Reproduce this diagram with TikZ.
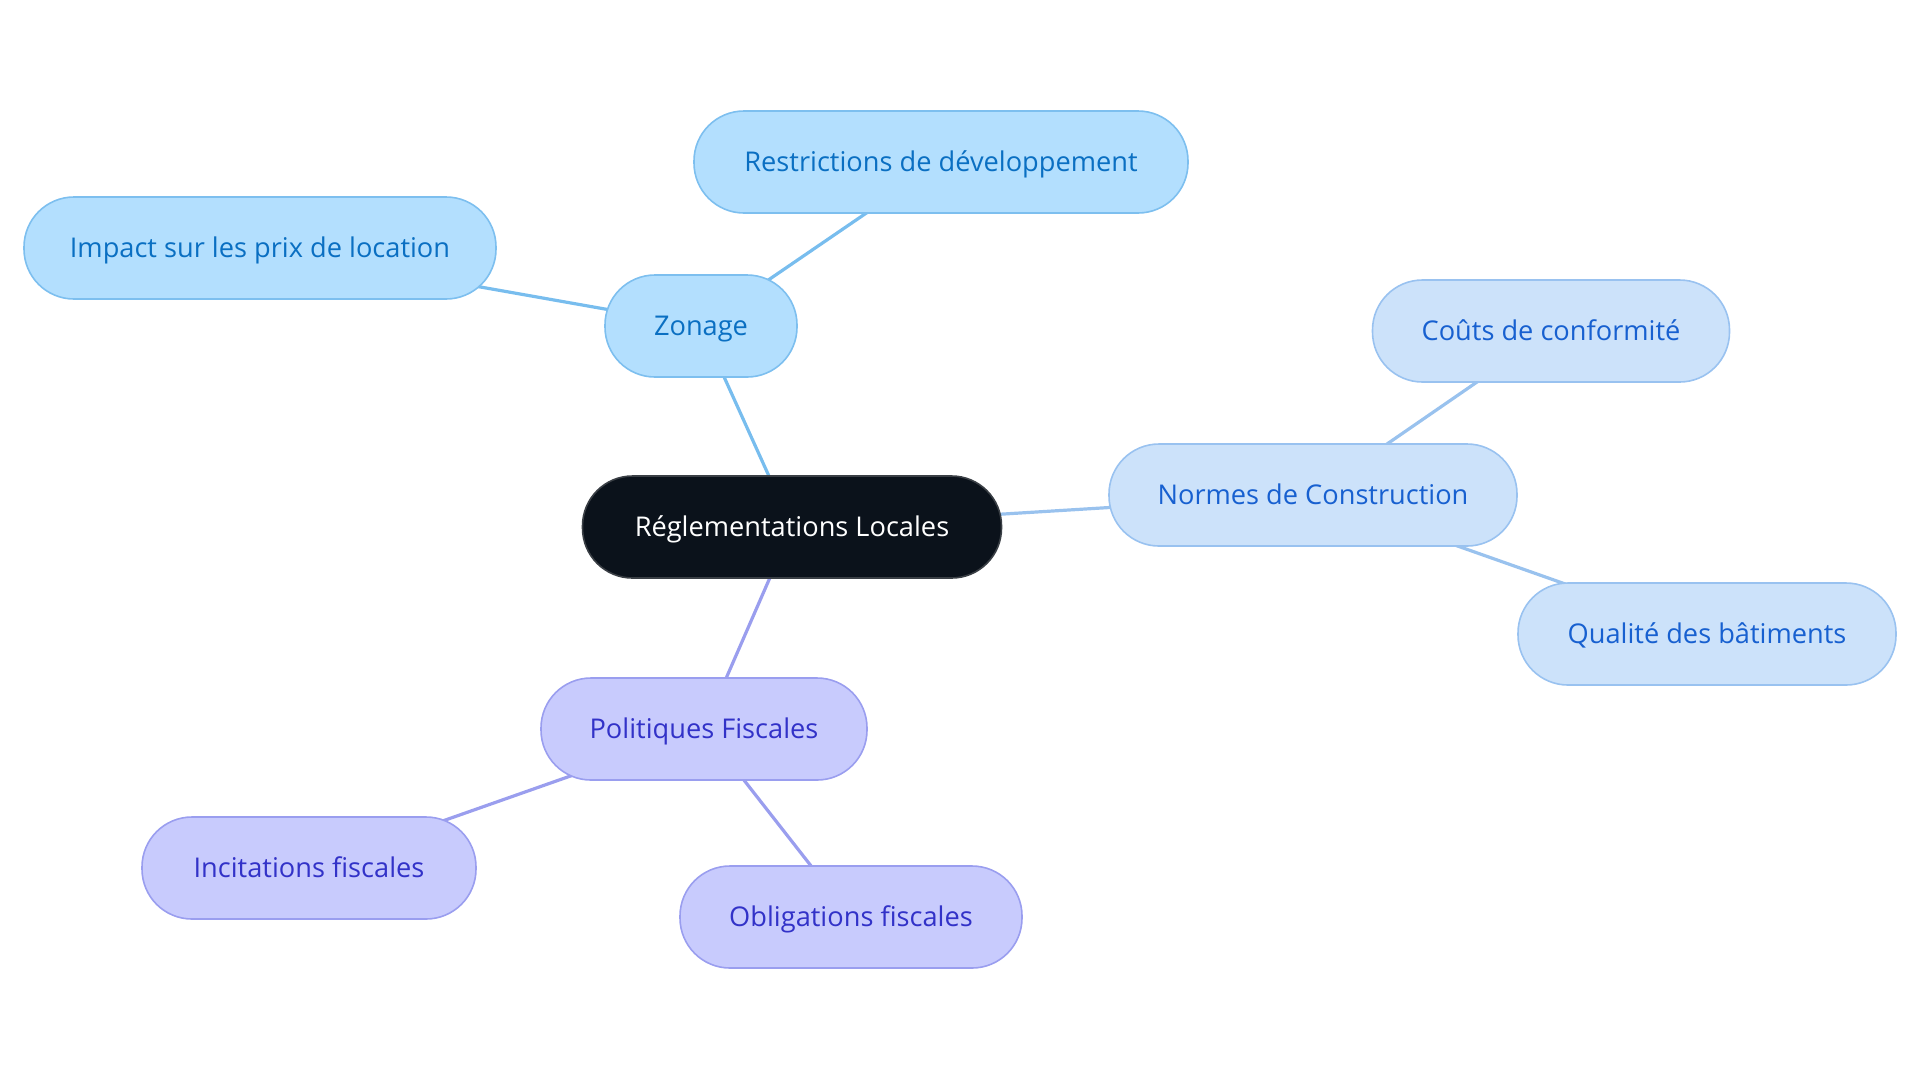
\documentclass[tikz,border=0pt]{standalone}
\usepackage{fontspec}
\setmainfont{Open Sans}
\pgfdeclarelayer{bg}
\pgfsetlayers{bg,main}
\begin{document}
\begin{tikzpicture}[x=0.5pt,y=-0.5pt,
  box/.style={draw, line width=0.8pt, rounded corners=25pt, minimum height=51pt, inner sep=0pt, text height=9.6pt, text depth=0pt, align=center, font=\fontsize{13.6}{16}\selectfont},
  rootbox/.style={box, fill=rootfill, draw=rootdraw, text=white},
  zbox/.style={box, fill=zfill, draw=zdraw, text=ztext},
  nbox/.style={box, fill=nfill, draw=ndraw, text=ntext},
  pbox/.style={box, fill=pfill, draw=pdraw, text=ptext},
  zline/.style={draw=zline, line width=1.6pt},
  nline/.style={draw=nline, line width=1.6pt},
  pline/.style={draw=pline, line width=1.6pt}]
\definecolor{rootfill}{HTML}{0B121B}
\definecolor{rootdraw}{HTML}{3A3F45}
\definecolor{zfill}{HTML}{B3DFFE}
\definecolor{zdraw}{HTML}{7DBFEF}
\definecolor{ztext}{HTML}{0A6FC2}
\definecolor{zline}{HTML}{78BDEE}
\definecolor{nfill}{HTML}{CCE2FA}
\definecolor{ndraw}{HTML}{99C2F0}
\definecolor{ntext}{HTML}{1760D0}
\definecolor{nline}{HTML}{99C2EE}
\definecolor{pfill}{HTML}{C8CBFD}
\definecolor{pdraw}{HTML}{9A9EEF}
\definecolor{ptext}{HTML}{3232C8}
\definecolor{pline}{HTML}{9A9EEE}
\useasboundingbox (0,0) rectangle (1920,1083);
\node[rootbox, minimum width=209.5pt] (root) at (792,527) {Réglementations Locales};
\node[zbox, minimum width=96pt] (zon) at (701,326) {Zonage};
\node[zbox, minimum width=247pt] (res) at (941,162) {Restrictions de développement};
\node[zbox, minimum width=236pt] (imp) at (260,248) {Impact sur les prix de location};
\node[nbox, minimum width=204pt] (nor) at (1313,495) {Normes de Construction};
\node[nbox, minimum width=178.5pt] (cou) at (1551,331) {Coûts de conformité};
\node[nbox, minimum width=189pt] (qua) at (1707,634) {Qualité des bâtiments};
\node[pbox, minimum width=163pt] (pol) at (704,729) {Politiques Fiscales};
\node[pbox, minimum width=167pt] (inc) at (309,868) {Incitations fiscales};
\node[pbox, minimum width=171pt] (obl) at (851,917) {Obligations fiscales};
\begin{pgfonlayer}{bg}
\path[zline] (root.center) -- (zon.center);
\path[zline] (zon.center) -- (res.center);
\path[zline] (zon.center) -- (imp.center);
\path[nline] (root.center) -- (nor.center);
\path[nline] (nor.center) -- (cou.center);
\path[nline] (nor.center) -- (qua.center);
\path[pline] (root.center) -- (pol.center);
\path[pline] (pol.center) -- (inc.center);
\path[pline] (pol.center) -- (obl.center);
\end{pgfonlayer}
\end{tikzpicture}
\end{document}
